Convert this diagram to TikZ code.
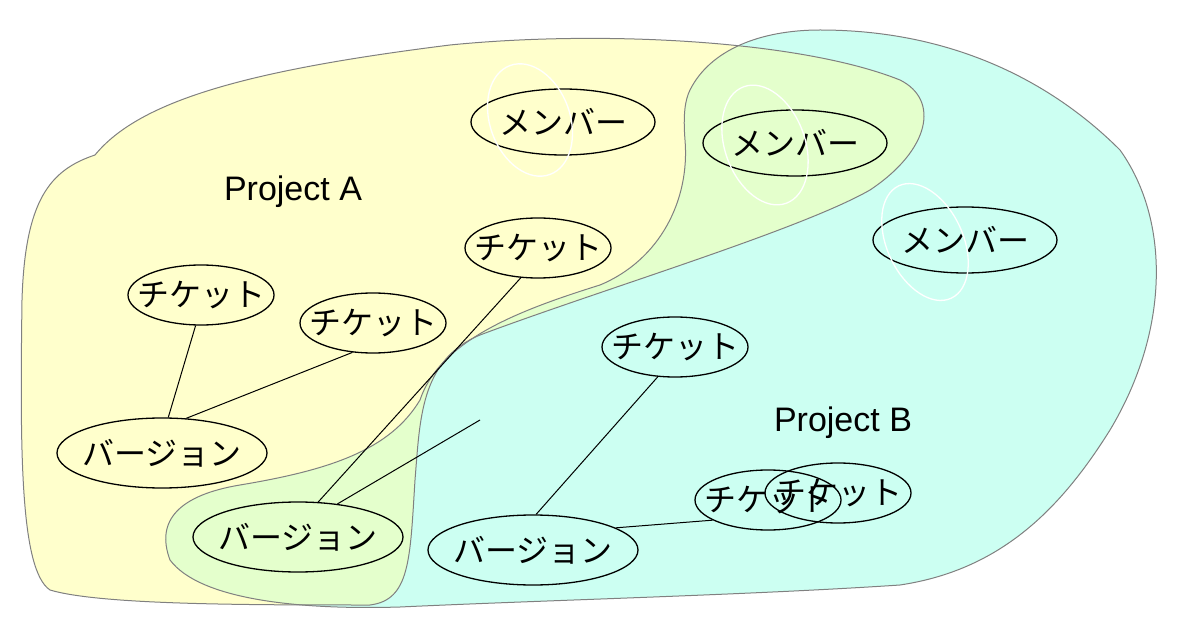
\documentclass[tikz,border=0pt]{standalone}
\usepackage{fontspec}
\setmainfont{Liberation Sans}
\newfontfamily\jp{Noto Sans CJK JP}
\usetikzlibrary{shapes.geometric}
\definecolor{ya}{RGB}{255,255,204}
\definecolor{cb}{RGB}{204,255,242}
\definecolor{gr}{RGB}{228,255,204}
\begin{document}
\begin{tikzpicture}[x=1pt,y=-1pt,line width=1.3pt,
  el/.style={draw,ellipse,inner ysep=0pt,font=\jp\fontsize{32}{32}\selectfont},
  mem/.style={el,inner xsep=-10pt,minimum width=184pt,minimum height=66pt},
  tik/.style={el,inner xsep=-18pt,minimum width=146pt,minimum height=60pt},
  ver/.style={el,inner xsep=-20pt,minimum width=210pt,minimum height=70pt},
  wl/.style={draw=white,line width=1.3pt}]
\useasboundingbox (0,0) rectangle (1200,620);
\def\pathA{(95,155) .. controls (140,100) and (250,70) .. (450,45) .. controls (600,30) and (800,40) .. (900,80) .. controls (940,100) and (930,150) .. (870,190) .. controls (800,230) and (600,290) .. (480,335) .. controls (420,360) and (420,420) .. (415,480) .. controls (410,560) and (410,600) .. (370,605) .. controls (250,605) and (100,605) .. (50,590) .. controls (20,570) and (20,450) .. (22,300) .. controls (25,200) and (50,170) .. (95,155) -- cycle}
\def\pathB{(690,90) .. controls (710,50) and (760,30) .. (820,30) .. controls (950,30) and (1050,80) .. (1120,150) .. controls (1170,220) and (1170,330) .. (1110,430) .. controls (1060,510) and (1000,570) .. (900,585) .. controls (750,595) and (550,600) .. (400,607) .. controls (300,610) and (200,600) .. (170,560) .. controls (155,520) and (180,495) .. (240,485) .. controls (330,470) and (390,450) .. (420,400) .. controls (440,340) and (520,310) .. (600,285) .. controls (660,260) and (690,200) .. (685,140) .. controls (683,115) and (685,100) .. (690,90) -- cycle}
\fill[ya] \pathA;
\fill[cb] \pathB;
\begin{scope}
\clip \pathA;
\fill[gr] \pathB;
\end{scope}
\draw[gray,line width=1pt] \pathA;
\draw[gray,line width=1pt] \pathB;
\node[font=\fontsize{34}{34}\selectfont] (pa) at (293,192) {Project A};
\node[font=\fontsize{34}{34}\selectfont] (pb) at (843,423) {Project B};
\node[mem] (m1) at (563,122) {メンバー};
\node[mem] (m2) at (795,143) {メンバー};
\node[mem] (m3) at (965,240) {メンバー};
\draw[wl,rotate around={20:(530,120)}] (530,120) ellipse (40 and 58);
\draw[wl,rotate around={20:(765,145)}] (765,145) ellipse (40 and 62);
\draw[wl,rotate around={25:(925,242)}] (925,242) ellipse (38 and 62);
\node[tik] (t1) at (201,295) {チケット};
\node[tik] (t2) at (373,323) {チケット};
\node[tik] (t3) at (538,248) {チケット};
\node[tik] (t4) at (675,347) {チケット};
\node[tik] (t6) at (838,493) {チケット};
\node[tik] (t5) at (768,500) {チケット};
\node[ver] (v1) at (162,453) {バージョン};
\node[ver] (v2) at (298,537) {バージョン};
\node[ver] (v3) at (533,550) {バージョン};
\coordinate (f) at (480,420);
\draw[line width=1pt] (t1.260) -- (v1.80);
\draw[line width=1pt] (t2.235) -- (v1.55);
\draw[line width=1pt] (t3.240) -- (v2.60);
\draw[line width=1pt] (v2.40) -- (f);
\draw[line width=1pt] (t4.240) -- (v3.85);
\draw[line width=1pt] (v3.15) -- (t5.200);
\end{tikzpicture}
\end{document}
